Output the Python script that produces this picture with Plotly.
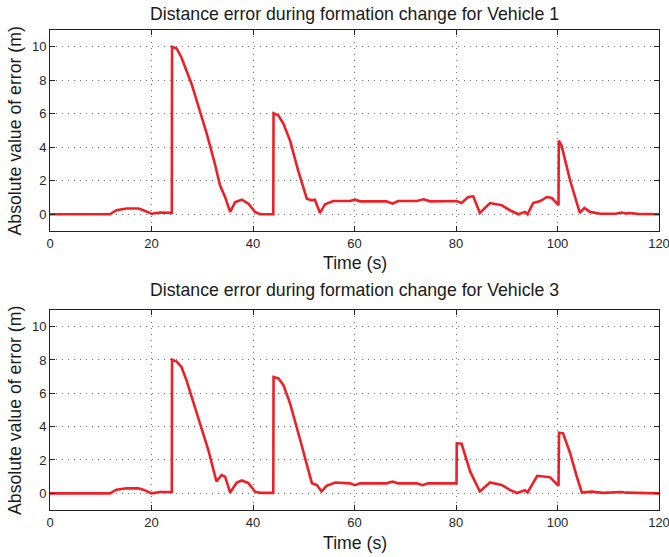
import plotly.graph_objects as go

# Vehicle 1 distance error
t1 = [0, 11.8, 13.1, 15.1, 17.4, 18.4, 20.0, 21.7, 24.0, 24.05, 24.95, 25.9, 26.9, 27.9, 28.9, 30.9,
      32.5, 33.5, 34.5, 35.5, 36.5, 37.8, 39.1, 40.4, 41.4, 44.0, 44.05, 45.0, 46.0, 47.3, 48.9,
      50.6, 51.6, 52.2, 53.2, 54.2, 55.8, 59.1, 60.1, 61.1, 66.3, 67.5, 68.6, 72.3, 73.6, 74.9,
      80.1, 81.1, 82.4, 83.4, 84.7, 86.7, 89.0, 90.6, 92.3, 93.6, 94.1, 95.2, 96.6, 97.9, 98.9,
      100.2, 100.25, 100.8, 102.5, 104.4, 105.3, 106.4, 108.4, 111.5, 112.6, 113.5, 114.3, 115.8, 120]
v1 = [0, 0, 0.24, 0.34, 0.34, 0.24, 0.03, 0.1, 0.08, 10.0, 9.9, 9.36, 8.57, 7.78, 6.79, 4.8,
      3.0, 1.73, 1.03, 0.14, 0.73, 0.87, 0.63, 0.14, 0.0, 0.0, 6.03, 5.9, 5.4, 4.4, 2.6,
      0.93, 0.83, 0.87, 0.08, 0.6, 0.79, 0.79, 0.87, 0.77, 0.77, 0.63, 0.79, 0.79, 0.89, 0.77,
      0.79, 0.67, 1.03, 1.07, 0.08, 0.67, 0.54, 0.24, 0.0, 0.14, 0.0, 0.67, 0.79, 1.03, 0.97,
      0.54, 4.4, 4.1, 2.0, 0.08, 0.38, 0.14, 0.03, 0.03, 0.1, 0.05, 0.07, 0.02, 0]

# Vehicle 3 distance error
t3 = [0, 11.8, 13.1, 15.1, 17.4, 18.4, 20.0, 21.7, 24.0, 24.05, 24.95, 25.9, 26.9, 27.9, 29.6, 31.2,
      32.8, 33.8, 34.5, 35.5, 36.8, 37.8, 39.1, 40.4, 41.4, 44.0, 44.05, 45.0, 46.0, 47.3, 49.3,
      50.6, 51.6, 52.6, 53.5, 54.5, 56.2, 59.1, 60.1, 61.1, 66.3, 67.5, 68.6, 72.3, 73.4, 74.5,
      80.1, 80.15, 81.1, 82.8, 84.7, 86.7, 89.0, 90.6, 92.0, 93.6, 94.1, 96.0, 98.5,
      100.2, 100.3, 101.1, 102.5, 103.8, 104.8, 106.7, 109.0, 112.6, 113.5, 120]
v3 = [0, 0, 0.22, 0.3, 0.3, 0.22, 0.0, 0.08, 0.08, 8.02, 7.9, 7.58, 6.78, 5.79, 4.2, 2.6,
      0.71, 1.1, 1.0, 0.05, 0.65, 0.77, 0.61, 0.1, 0.03, 0.03, 6.98, 6.9, 6.49, 5.4, 3.2,
      1.8, 0.61, 0.5, 0.11, 0.45, 0.65, 0.6, 0.49, 0.6, 0.6, 0.71, 0.6, 0.6, 0.49, 0.6,
      0.6, 3.0, 2.97, 1.3, 0.11, 0.65, 0.5, 0.21, 0.02, 0.18, 0.05, 1.05, 0.97,
      0.45, 3.63, 3.6, 2.4, 1.0, 0.05, 0.1, 0.03, 0.08, 0.04, 0]

titles = ["Distance error during formation change for Vehicle 1",
          "Distance error during formation change for Vehicle 3"]
x_ticks = [0, 20, 40, 60, 80, 100, 120]
y_ticks = [0, 2, 4, 6, 8, 10]

FONT = "Liberation Sans, Arial, sans-serif"
RED = "#ee2027"

fig = go.Figure()
fig.add_trace(go.Scatter(x=t1, y=v1, mode="lines", line=dict(color=RED, width=2.6),
                         xaxis="x", yaxis="y", showlegend=False))
fig.add_trace(go.Scatter(x=t3, y=v3, mode="lines", line=dict(color=RED, width=2.6),
                         xaxis="x2", yaxis="y2", showlegend=False))

axis_common = dict(showline=True, linecolor="#222", linewidth=1, mirror="allticks",
                   ticks="inside", ticklen=5, tickcolor="#222",
                   showgrid=True, gridcolor="#777", griddash="1px,5px", gridwidth=1,
                   zeroline=False, ticklabeloverflow="allow", automargin=False,
                   tickfont=dict(family=FONT, size=13, color="#262626"))

fig.update_layout(
    width=669, height=557,
    margin=dict(l=50, r=10, t=30, b=47),
    paper_bgcolor="white", plot_bgcolor="white",
    xaxis=dict(domain=[0, 1], range=[0, 120], tickvals=x_ticks, anchor="y", **axis_common),
    yaxis=dict(domain=[0.58125, 1], range=[-1, 11], tickvals=y_ticks, anchor="x", **axis_common),
    xaxis2=dict(domain=[0, 1], range=[0, 120], tickvals=x_ticks, anchor="y2", **axis_common),
    yaxis2=dict(domain=[0, 0.41667], range=[-1, 11], tickvals=y_ticks, anchor="x2", **axis_common),
)

tf = dict(family=FONT, size=17.7, color="#1a1a1a")
ann = []
for title, ty, xty, ymid in [(titles[0], 1.0333, 0.5146, 0.7906),
                             (titles[1], 0.4583, -0.06875, 0.2083)]:
    ann.append(dict(text=title, x=0.5, y=ty, xref="paper", yref="paper", showarrow=False,
                    xanchor="center", yanchor="middle", font=tf))
    ann.append(dict(text="Time (s)", x=0.5, y=xty, xref="paper", yref="paper", showarrow=False,
                    xanchor="center", yanchor="middle", font=tf))
    ann.append(dict(text="Absolute value of error (m)", x=-0.0575, y=ymid, xref="paper", yref="paper",
                    showarrow=False, xanchor="center", yanchor="middle", textangle=-90, font=tf))
fig.update_layout(annotations=ann)

fig.write_html("out.html", config={"displayModeBar": False},
               post_script="document.body.style.margin='0';")
